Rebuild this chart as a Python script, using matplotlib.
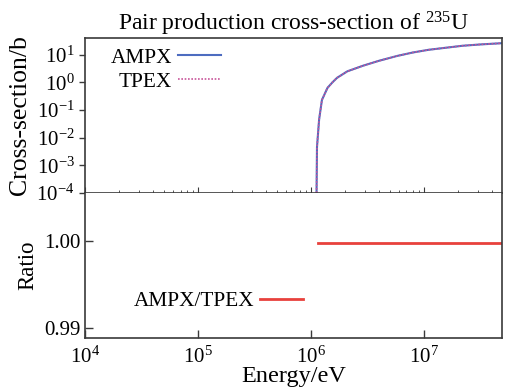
import numpy as np
import matplotlib
matplotlib.use('Agg')
import matplotlib.pyplot as plt
from matplotlib.ticker import LogLocator, FixedLocator, NullFormatter, FuncFormatter

plt.rcParams['font.family'] = ['Liberation Serif', 'DejaVu Serif']
plt.rcParams['mathtext.fontset'] = 'custom'
plt.rcParams['mathtext.rm'] = 'Liberation Serif'
plt.rcParams['mathtext.it'] = 'Liberation Serif:italic'
plt.rcParams['mathtext.default'] = 'rm'

# energy (eV) and cross-section (b)
energy = [1.12e6, 1.13e6, 1.18e6, 1.25e6, 1.4e6, 1.55e6, 1.7e6, 2.1e6, 2.9e6,
          4.0e6, 5.8e6, 8.0e6, 1.1e7, 1.6e7, 2.2e7, 3.2e7, 4.9e7]
xs_ampx = [1e-4, 4.5e-3, 4.5e-2, 0.23, 0.63, 1.0, 1.45, 2.5, 4.0,
           6.0, 9.0, 12.0, 15.0, 18.0, 21.0, 23.5, 26.0]
xs_tpex = [1e-4, 4.5e-3, 4.5e-2, 0.23, 0.63, 1.0, 1.45, 2.5, 4.0,
           6.0, 9.0, 12.0, 15.0, 18.0, 21.0, 23.5, 26.0]
ratio_e = [1.15e6, 4.9e7]
ratio = [0.9998, 0.9998]

blue = '#4d6cc0'
pink = '#c8559a'
red = '#e8413c'
spine_c = '#3a3a3a'

fig = plt.figure(figsize=(5.1, 3.88), dpi=100)
ax1 = fig.add_axes([0.167, 0.503, 0.817, 0.399])
ax2 = fig.add_axes([0.167, 0.128, 0.817, 0.375], sharex=ax1)

ax1.plot(energy, xs_ampx, color=blue, lw=1.5, label='AMPX')
ax1.plot(energy, xs_tpex, color=pink, lw=1.2, ls=(0, (1, 1)), label='TPEX')
ax1.set_xscale('log')
ax1.set_yscale('log')
ax1.set_xlim(1e4, 4.9e7)
ax1.set_ylim(1e-4, 40)
ax1.yaxis.set_major_locator(FixedLocator([1e-4, 1e-3, 1e-2, 1e-1, 1, 10]))
ax1.yaxis.set_minor_locator(FixedLocator([]))

def pow_fmt(v, pos):
    e = int(round(np.log10(v)))
    s = str(e).replace('-', '\u2212')
    return '10$^{' + s + '}$'

ax1.yaxis.set_major_formatter(FuncFormatter(pow_fmt))
ax1.tick_params(axis='y', direction='out', length=4, width=1, labelsize=15, colors=spine_c, labelcolor='black')
ax1.tick_params(axis='x', which='both', direction='in', labelbottom=False, colors=spine_c)
ax1.tick_params(axis='x', which='major', length=4)
ax1.tick_params(axis='x', which='minor', length=2)
ax1.set_ylabel('Cross-section/b', fontsize=18.5)
ax1.set_title('Pair production cross-section of $^{235}$U', fontsize=17, pad=5)
leg = ax1.legend(loc='upper left', frameon=False, markerfirst=False, fontsize=15.3,
                 handlelength=2.0, handletextpad=0.3, borderaxespad=0.2, labelspacing=0.2,
                 bbox_to_anchor=(0.03, 1.02))

ax2.plot(ratio_e, ratio, color=red, lw=2, label='AMPX/TPEX')
ax2.set_ylim(0.98885, 1.0055)
ax2.yaxis.set_major_locator(FixedLocator([0.99, 1.00]))
ax2.yaxis.set_major_formatter(FuncFormatter(lambda v, p: '%.2f' % v))
ax2.xaxis.set_major_locator(LogLocator(base=10, numticks=10))
ax2.xaxis.set_minor_formatter(NullFormatter())
ax2.xaxis.set_major_formatter(FuncFormatter(pow_fmt))
ax2.tick_params(axis='both', which='major', direction='in', length=6, width=1, labelsize=15,
                colors=spine_c, labelcolor='black')
ax2.tick_params(axis='x', which='major', pad=6)
ax2.tick_params(axis='x', which='minor', length=0)
ax2.set_ylabel('Ratio', fontsize=16.5)
ax2.set_xlabel('Energy/eV', fontsize=17.5, labelpad=-1)
ax2.legend(loc='lower left', frameon=False, markerfirst=False, fontsize=15.3,
           handlelength=2.0, handletextpad=0.3, bbox_to_anchor=(0.07, 0.055))

for ax in (ax1, ax2):
    for sp in ax.spines.values():
        sp.set_color(spine_c)
        sp.set_linewidth(1.2)
ax2.spines['top'].set_visible(False)

fig.align_ylabels([ax1, ax2])
fig.savefig('out.png', dpi=100)
